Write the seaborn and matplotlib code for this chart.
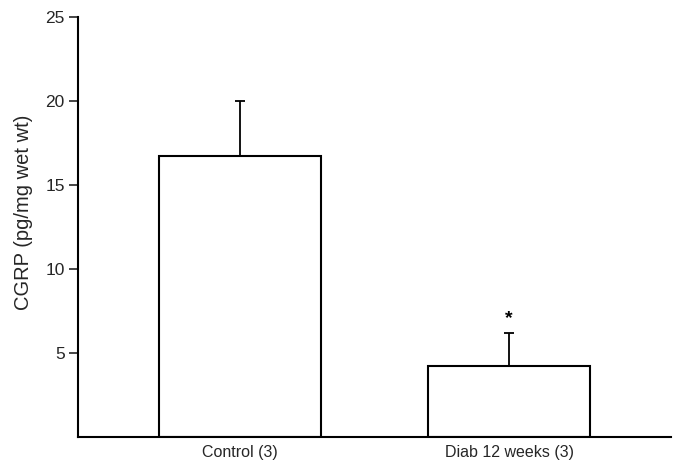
import matplotlib
matplotlib.use("Agg")
import matplotlib.pyplot as plt
import seaborn as sns
import pandas as pd

categories = ["Control (3)", "Diab 12 weeks (3)"]
means = [16.7, 4.2]
sem_upper = [3.3, 2.0]
yticks = [5, 10, 15, 20, 25]
star_labels = ["", "*"]

sns.set_style("ticks")
plt.rcParams['font.family'] = ['Liberation Sans', 'DejaVu Sans']

df = pd.DataFrame({"group": categories, "value": means})

fig = plt.figure(figsize=(6.73, 4.62), dpi=100)
ax = fig.add_axes([78/673, 25/462, (671-78)/673, (437-17)/462])

sns.barplot(data=df, x="group", y="value", order=categories, color="white",
            edgecolor="black", linewidth=1.5, width=0.6, errorbar=None, ax=ax)
for p in ax.patches:
    p.set_facecolor("white")

ax.errorbar(range(len(categories)), means, yerr=[[0]*len(means), sem_upper],
            fmt="none", ecolor="black", elinewidth=1.3, capsize=3.3, capthick=1.3, zorder=3)

for i, s in enumerate(star_labels):
    if s:
        ax.text(i, means[i] + sem_upper[i] + 0.6, s, ha="center", va="baseline",
                fontsize=14, fontweight="bold", color="black")

ax.set_xlim(-0.6, 1.6)
ax.set_ylim(0, 25)
ax.set_yticks(yticks)
ax.set_yticklabels([str(t) for t in yticks], fontsize=12.5)
ax.tick_params(axis="y", direction="out", length=6.5, width=1.2, pad=3)
ax.tick_params(axis="x", length=0, pad=6, labelsize=11.5)
ax.set_xlabel("")
ax.set_ylabel("CGRP (pg/mg wet wt)", fontsize=14.5)
ax.yaxis.set_label_coords(-0.076, 0.536)
for side in ["top", "right"]:
    ax.spines[side].set_visible(False)
for side in ["left", "bottom"]:
    ax.spines[side].set_linewidth(1.5)
    ax.spines[side].set_color("black")

fig.savefig("out.png", dpi=100)
